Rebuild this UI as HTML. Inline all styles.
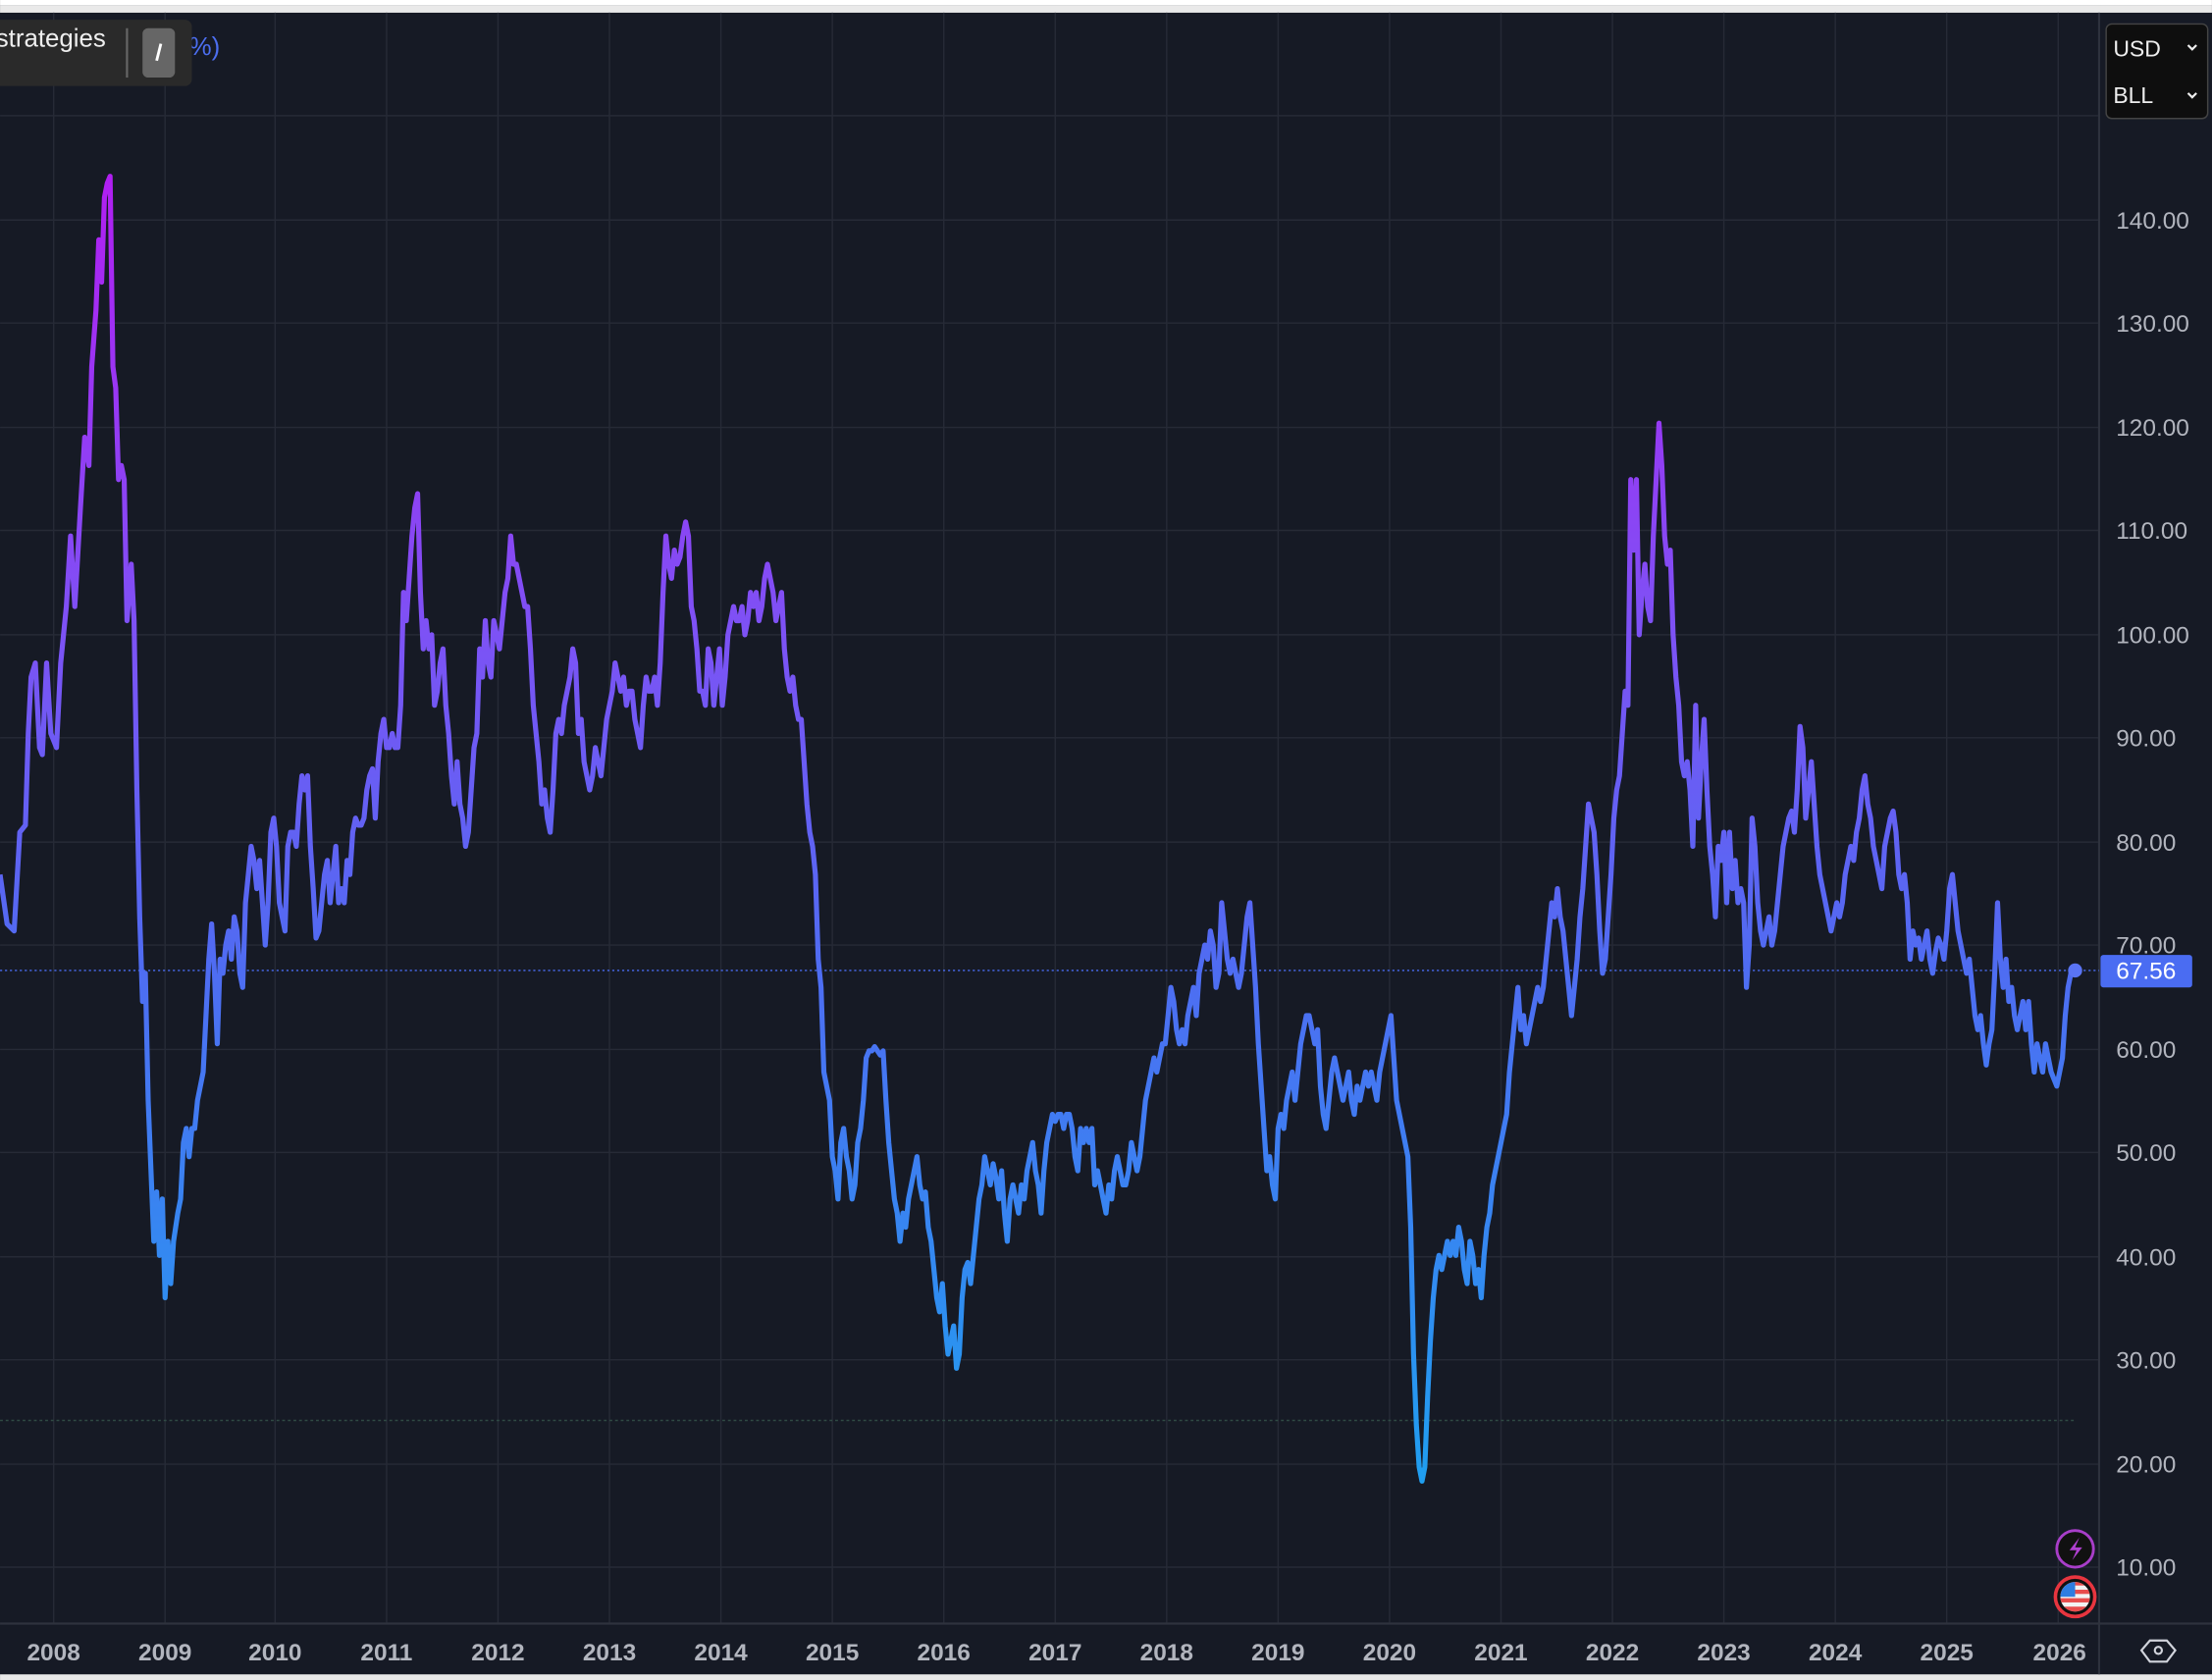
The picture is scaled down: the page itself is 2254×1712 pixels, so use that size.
<!DOCTYPE html>
<html><head><meta charset="utf-8"><style>
html,body{margin:0;padding:0;background:#161a25;overflow:hidden}
svg{display:block}
text{font-family:"Liberation Sans",sans-serif}
</style></head><body>
<svg width="2254" height="1712" viewBox="0 0 1568 1191" xmlns="http://www.w3.org/2000/svg">
<defs>
<linearGradient id="g" gradientUnits="userSpaceOnUse" x1="0" y1="120" x2="0" y2="1060">
<stop offset="0" stop-color="#b21ef2"/>
<stop offset="0.35" stop-color="#7d52f5"/>
<stop offset="0.6" stop-color="#4f6cf2"/>
<stop offset="1" stop-color="#1ea0f0"/>
</linearGradient>
</defs>
<rect x="0" y="0" width="1568" height="1191" fill="#161a25"/>
<rect x="0" y="0" width="1568" height="4" fill="#ffffff"/>
<rect x="0" y="4" width="1568" height="5" fill="#e9e9e9"/>
<rect x="0" y="1187" width="1568" height="4" fill="#e9e9e9"/>
<g stroke="#262a36" stroke-width="1">
<path d="M38 9V1151M117 9V1151M195 9V1151M274 9V1151M353 9V1151M432 9V1151M511 9V1151M590 9V1151M669 9V1151M748 9V1151M827 9V1151M906 9V1151M985 9V1151M1064 9V1151M1143 9V1151M1222 9V1151M1301 9V1151M1380 9V1151M1459 9V1151"/>
<path d="M0 82H1488M0 156H1488M0 229H1488M0 303H1488M0 376H1488M0 450H1488M0 523H1488M0 597H1488M0 670H1488M0 744H1488M0 817H1488M0 891H1488M0 964H1488M0 1038H1488M0 1111H1488"/>
</g>
<path d="M1488 9V1187M0 1151H1568" stroke="#2e323d" stroke-width="1.5"/>
<path d="M0 1007H1472" stroke="#2f4a44" stroke-width="1" stroke-dasharray="2 2"/>
<path d="M0 688H1488" stroke="#4a6cf2" stroke-width="1" stroke-dasharray="1.5 2"/>
<polyline fill="none" stroke="url(#g)" stroke-width="3.6" stroke-linejoin="round" points="0,620 5,655 10,660 14,590 18,585 20,520 22,480 25,470 28,530 30,535 33,470 36,520 40,530 43,470 47,430 50,380 53,430 57,360 60,310 63,330 65,260 68,220 70,170 72,200 74,140 76,130 78,125 80,260 82,275 84,340 86,330 88,340 90,440 93,400 95,440 97,560 99,650 101,710 103,690 105,780 107,830 109,880 111,845 113,890 115,850 117,920 119,880 121,910 123,880 126,860 128,850 130,810 132,800 134,820 136,800 138,800 140,780 142,770 144,760 146,720 148,680 150,655 152,690 154,740 156,680 158,690 160,670 162,660 164,680 166,650 168,660 170,690 172,700 174,640 176,620 178,600 180,610 182,630 184,610 186,640 188,670 190,640 192,590 194,580 196,600 198,640 200,650 202,660 204,600 206,590 208,590 210,600 212,570 214,550 216,560 218,550 220,600 222,630 224,665 226,660 228,640 230,620 232,610 234,640 236,620 238,600 240,640 242,630 244,640 246,610 248,620 250,590 252,580 254,585 256,585 258,580 260,560 262,550 264,545 266,580 268,540 270,520 272,510 274,530 276,530 278,520 280,530 282,530 284,500 286,420 288,440 290,410 292,380 294,360 296,350 298,420 300,460 302,440 304,460 306,450 308,500 310,490 312,470 314,460 316,500 318,520 320,550 322,570 324,540 326,570 328,580 330,600 332,590 334,560 336,530 338,520 340,460 342,480 344,440 346,470 348,480 350,440 352,450 354,460 356,440 358,420 360,410 362,380 364,400 366,400 368,410 370,420 372,430 374,430 376,460 378,500 380,520 382,540 384,570 386,560 388,580 390,590 392,560 394,520 396,510 398,520 400,500 402,490 404,480 406,460 408,470 410,520 412,510 414,540 416,550 418,560 420,550 422,530 424,540 426,550 428,530 430,510 432,500 434,490 436,470 438,480 440,490 442,480 444,500 446,490 448,490 450,510 452,520 454,530 456,500 458,480 460,490 462,490 464,480 466,500 468,470 470,420 472,380 474,400 476,410 478,390 480,400 482,395 484,380 486,370 488,380 490,430 492,440 494,460 496,490 498,490 500,500 502,460 504,470 506,500 508,480 510,460 512,500 514,480 516,450 518,440 520,430 522,440 524,440 526,430 528,450 530,440 532,420 534,430 536,420 538,440 540,430 542,410 544,400 546,410 548,420 550,440 552,430 554,420 556,460 558,480 560,490 562,480 564,500 566,510 568,510 570,540 572,570 574,590 576,600 578,620 580,680 582,700 584,760 586,770 588,780 590,820 592,830 594,850 596,810 598,800 600,820 602,830 604,850 606,840 608,810 610,800 612,780 614,750 616,745 618,745 620,742 622,745 624,748 626,745 628,780 630,810 632,830 634,850 636,860 638,880 640,860 642,870 644,850 646,840 648,830 650,820 652,840 654,850 656,845 658,870 660,880 662,900 664,920 666,930 668,910 670,940 672,960 674,950 676,940 678,970 680,960 682,920 684,900 686,895 688,910 690,890 692,870 694,850 696,840 698,820 700,830 702,840 704,825 706,835 708,850 710,830 712,860 714,880 716,850 718,840 720,850 722,860 724,840 726,850 728,830 730,820 732,810 734,830 736,840 738,860 740,830 742,810 744,800 746,790 748,795 750,790 752,790 754,800 756,790 758,790 760,800 762,820 764,830 766,800 768,810 770,800 772,810 774,800 776,840 778,830 780,840 782,850 784,860 786,840 788,850 790,830 792,820 794,830 796,840 798,840 800,830 802,810 804,820 806,830 808,820 810,800 812,780 814,770 816,760 818,750 820,760 822,750 824,740 826,740 828,720 830,700 832,710 834,730 836,740 838,730 840,740 842,720 844,710 846,700 848,720 850,690 852,680 854,670 856,680 858,660 860,670 862,700 864,690 866,640 868,660 870,680 872,690 874,680 876,690 878,700 880,690 882,670 884,650 886,640 888,670 890,700 892,740 894,770 896,800 898,830 900,820 902,840 904,850 906,800 908,790 910,800 912,780 914,770 916,760 918,780 920,760 922,740 924,730 926,720 928,720 930,730 932,740 934,730 936,770 938,790 940,800 942,780 944,760 946,750 948,760 950,770 952,780 954,770 956,760 958,780 960,790 962,770 964,780 966,770 968,760 970,770 972,760 974,770 976,780 978,760 980,750 982,740 984,730 986,720 988,750 990,780 992,790 994,800 996,810 998,820 1000,870 1002,960 1004,1010 1006,1040 1008,1050 1010,1040 1012,990 1014,950 1016,920 1018,900 1020,890 1022,900 1024,890 1026,880 1028,890 1030,880 1032,890 1034,870 1036,880 1038,900 1040,910 1042,880 1044,890 1046,910 1048,900 1050,920 1052,890 1054,870 1056,860 1058,840 1060,830 1062,820 1064,810 1066,800 1068,790 1070,760 1072,740 1074,720 1076,700 1078,730 1080,720 1082,740 1084,730 1086,720 1088,710 1090,700 1092,710 1094,700 1096,680 1098,660 1100,640 1102,650 1104,630 1106,650 1108,660 1110,680 1112,700 1114,720 1116,700 1118,680 1120,650 1122,630 1124,600 1126,570 1128,580 1130,590 1132,620 1134,660 1136,690 1138,680 1140,650 1142,620 1144,580 1146,560 1148,550 1150,520 1152,490 1154,500 1156,340 1158,390 1160,340 1162,450 1164,420 1166,400 1168,430 1170,440 1172,380 1174,340 1176,300 1178,330 1180,380 1182,400 1184,390 1186,450 1188,480 1190,500 1192,540 1194,550 1196,540 1198,560 1200,600 1202,500 1204,580 1206,540 1208,510 1210,560 1212,600 1214,620 1216,650 1218,600 1220,610 1222,590 1224,640 1226,590 1228,630 1230,610 1232,640 1234,630 1236,640 1238,700 1240,670 1242,580 1244,600 1246,640 1248,660 1250,670 1252,660 1254,650 1256,670 1258,660 1260,640 1262,620 1264,600 1266,590 1268,580 1270,575 1272,590 1274,560 1276,515 1278,530 1280,580 1282,560 1284,540 1286,570 1288,600 1290,620 1292,630 1294,640 1296,650 1298,660 1300,650 1302,640 1304,650 1306,640 1308,620 1310,610 1312,600 1314,610 1316,590 1318,580 1320,560 1322,550 1324,570 1326,580 1328,600 1330,610 1332,620 1334,630 1336,600 1338,590 1340,580 1342,575 1344,590 1346,620 1348,630 1350,620 1352,640 1354,680 1356,660 1358,670 1360,665 1362,680 1364,670 1366,660 1368,680 1370,690 1372,675 1374,665 1376,670 1378,680 1380,660 1382,630 1384,620 1386,640 1388,660 1390,670 1392,680 1394,690 1396,680 1398,700 1400,720 1402,730 1404,720 1406,740 1408,755 1410,740 1412,730 1414,690 1416,640 1418,680 1420,700 1422,680 1424,710 1426,700 1428,720 1430,730 1432,720 1434,710 1436,730 1438,710 1440,740 1442,760 1444,740 1446,750 1448,760 1450,740 1452,750 1454,760 1456,765 1458,770 1460,760 1462,750 1464,720 1466,700 1468,690 1470,688"/>
<circle cx="1471" cy="688" r="5" fill="#5a74f4"/>
<g fill="#b2b5be" font-size="17">
<text x="1500" y="162">140.00</text><text x="1500" y="235">130.00</text><text x="1500" y="309">120.00</text><text x="1500" y="382">110.00</text><text x="1500" y="456">100.00</text><text x="1500" y="529">90.00</text><text x="1500" y="603">80.00</text><text x="1500" y="676">70.00</text><text x="1500" y="750">60.00</text><text x="1500" y="823">50.00</text><text x="1500" y="897">40.00</text><text x="1500" y="970">30.00</text><text x="1500" y="1044">20.00</text><text x="1500" y="1117">10.00</text>
</g>
<rect x="1489" y="677" width="65" height="23" rx="2" fill="#4a6cf2"/>
<text x="1500" y="694" fill="#ffffff" font-size="17">67.56</text>
<g fill="#b2b5be" font-size="17" font-weight="bold" text-anchor="middle">
<text x="38" y="1177">2008</text><text x="117" y="1177">2009</text><text x="195" y="1177">2010</text><text x="274" y="1177">2011</text><text x="353" y="1177">2012</text><text x="432" y="1177">2013</text><text x="511" y="1177">2014</text><text x="590" y="1177">2015</text><text x="669" y="1177">2016</text><text x="748" y="1177">2017</text><text x="827" y="1177">2018</text><text x="906" y="1177">2019</text><text x="985" y="1177">2020</text><text x="1064" y="1177">2021</text><text x="1143" y="1177">2022</text><text x="1222" y="1177">2023</text><text x="1301" y="1177">2024</text><text x="1380" y="1177">2025</text><text x="1460" y="1177">2026</text>
</g>
<path d="M1524 1163h12l6 7-6 8h-12l-6-8z" fill="none" stroke="#d1d4dc" stroke-width="1.5"/>
<circle cx="1530" cy="1170" r="2.5" fill="none" stroke="#d1d4dc" stroke-width="1.5"/>
<circle cx="1471" cy="1098" r="13" fill="#111" stroke="#a83ec9" stroke-width="2"/>
<path d="M1474 1090l-7 9h5l-3 7 7-9h-5z" fill="#b040d0"/>
<circle cx="1471" cy="1132" r="14" fill="#111" stroke="#e8353f" stroke-width="2.5"/>
<clipPath id="fc"><circle cx="1471" cy="1132" r="10.5"/></clipPath>
<g clip-path="url(#fc)">
<rect x="1460" y="1121" width="22" height="22" fill="#f2f2f2"/>
<rect x="1460" y="1121" width="22" height="3" fill="#e84c4c"/><rect x="1460" y="1127" width="22" height="3" fill="#e84c4c"/><rect x="1460" y="1133" width="22" height="3" fill="#e84c4c"/><rect x="1460" y="1139" width="22" height="4" fill="#e84c4c"/>
<rect x="1460" y="1121" width="11" height="11" fill="#2f7de0"/>
</g>
<text x="124" y="39" fill="#4c6ef0" font-size="18">0%)</text>
<rect x="-10" y="14" width="146" height="47" rx="5" fill="#2a2a2a"/>
<text x="-3" y="33" fill="#eeeeee" font-size="18">strategies</text>
<path d="M90 20V55" stroke="#666" stroke-width="1.5"/>
<rect x="101" y="20" width="23" height="35" rx="4" fill="#666666"/>
<path d="M114 31l-3 12" stroke="#fff" stroke-width="2"/>
<rect x="1493" y="17" width="72" height="67" rx="4" fill="#0e0e0e" stroke="#444" stroke-width="1"/>
<text x="1498" y="40" fill="#eeeeee" font-size="16">USD</text>
<text x="1498" y="73" fill="#eeeeee" font-size="16">BLL</text>
<path d="M1551 32l3 3 3-3M1551 66l3 3 3-3" fill="none" stroke="#eee" stroke-width="1.5"/>
</svg>
</body></html>
